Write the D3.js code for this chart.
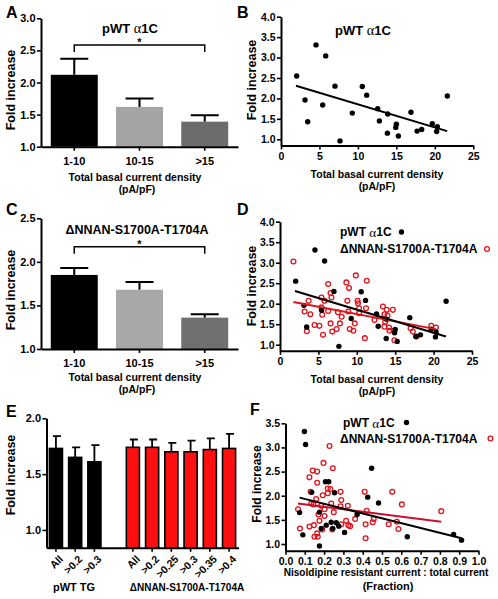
<!DOCTYPE html>
<html><head><meta charset="utf-8">
<script src="https://cdn.jsdelivr.net/npm/d3@7"></script>
<style>body{margin:0;background:#fff}svg{display:block}</style>
</head><body><svg id="c" width="498" height="599"></svg>
<script>
// ---------------- DATA ----------------
const densityCats = ["1-10", "10-15", ">15"];
const wtBarMean = [2.12, 1.62, 1.39];
const wtBarSem = [0.25, 0.13, 0.10];
const mutBarMean = [1.85, 1.68, 1.36];
const mutBarSem = [0.08, 0.09, 0.04];

const eWtCats = ["All", ">0.2", ">0.3"];
const eWtMean = [1.73, 1.65, 1.61];
const eWtSem = [0.11, 0.09, 0.15];
const eMutCats = ["All", ">0.2", ">0.25", ">0.3", ">0.35", ">0.4"];
const eMutMean = [1.74, 1.74, 1.70, 1.70, 1.72, 1.73];
const eMutSem = [0.07, 0.07, 0.08, 0.10, 0.10, 0.13];

const wtDensity = [2.04,3.12,3.47,4.55,5.42,5.81,7.02,7.67,9.27,10.57,11.14,12.57,12.79,13.87,13.83,14.92,15.0,15.26,16.9,17.69,18.29,19.67,20.32,20.24,21.63];
const wtFold    = [2.55,1.96,1.43,3.31,1.84,3.04,2.30,0.96,1.64,2.29,2.08,1.75,1.45,1.62,1.15,1.29,1.37,1.08,1.66,1.20,1.24,1.38,1.31,1.19,2.06];

const mutDensity = [1.75,3.73,3.2,3.95,3.5,4.5,5.13,5.4,5.4,5.5,5.6,5.8,6.27,6.27,6.58,6.7,6.58,6.8,7.37,7.54,7.8,8.03,8.64,8.77,8.99,8.9,9.08,9.56,9.74,9.87,10.1,10.15,10.3,10.3,11.05,11.3,11.2,12.3,13.4,13.6,13.7,13.6,13.9,14.0,14.2,14.25,14.7,14.8,14.9,17.0,17.3,17.76,19.7,20.3];
const mutFold    = [3.03,2.07,1.81,1.74,1.33,1.48,1.46,2.15,1.91,1.73,1.24,2.07,2.48,1.82,2.26,2.15,1.52,1.32,1.38,1.79,1.52,1.68,2.52,2.07,2.38,1.81,1.38,1.34,1.52,2.69,2.07,2.01,1.89,1.77,1.16,2.56,1.89,1.60,1.93,1.74,1.56,1.44,1.85,1.71,1.42,1.34,1.85,1.34,1.11,1.40,1.32,1.20,1.46,1.42];

const wtFraction = [0.098,0.104,0.073,0.09,0.136,0.176,0.176,0.185,0.207,0.224,0.211,0.237,0.245,0.254,0.263,0.276,0.306,0.371,0.426,0.446,0.482,0.631,0.871,0.912];
const wtFoldF    = [3.33,3.06,1.65,1.19,2.07,0.96,1.66,1.32,2.29,2.29,1.39,1.45,1.32,2.06,1.44,1.37,1.24,1.61,1.97,2.57,1.85,1.15,1.20,1.08];

const mutFraction = [0.065,0.075,0.124,0.141,0.164,0.164,0.13,0.133,0.145,0.159,0.124,0.147,0.15,0.167,0.164,0.171,0.176,0.185,0.193,0.197,0.202,0.202,0.19,0.219,0.228,0.233,0.219,0.237,0.245,0.25,0.242,0.285,0.289,0.289,0.285,0.314,0.323,0.326,0.335,0.361,0.41,0.415,0.415,0.421,0.452,0.457,0.535,0.553,0.577,0.585,0.603,0.807];
const mutFoldF    = [1.72,1.32,2.38,2.52,2.50,2.27,2.08,1.84,1.82,1.93,1.36,1.39,1.15,1.15,1.22,1.61,1.48,1.79,2.01,2.68,1.72,1.58,1.30,2.15,3.03,2.14,2.05,1.84,2.57,1.66,1.30,2.08,1.91,1.41,1.78,1.48,1.79,1.39,1.37,1.52,2.08,1.41,1.12,1.69,1.45,1.52,1.41,2.08,1.46,1.31,1.82,1.68];

// regression line end points
const fitWtDensityX = [1.95, 21.6], fitWtDensityY = [2.31, 1.20];
const fitMutDensityX = [1.75, 20.3], fitMutDensityY = [2.04, 1.38];
const fitWtFractionX = [0.073, 0.912], fitWtFractionY = [1.96, 1.12];
const fitMutFractionX = [0.064, 0.807], fitMutFractionY = [1.84, 1.46];

const ticksA = [1.0, 1.5, 2.0, 2.5, 3.0];
const ticksC = [1.0, 1.5, 2.0, 2.5];
const ticksE = [1.0, 1.5, 2.0];
const ticksBD = [1.0, 1.5, 2.0, 2.5, 3.0, 3.5, 4.0];
const ticksDensity = [0, 5, 10, 15, 20, 25];
const ticksF = [1.0, 1.5, 2.0, 2.5, 3.0, 3.5];
const ticksFraction = [0, 0.1, 0.2, 0.3, 0.4, 0.5, 0.6, 0.7, 0.8, 0.9, 1.0];

const wtLabel = "pWT ";
const mutLabel = "\u0394NNAN-S1700A-T1704A";

// ---------------- DRAWING ----------------
const FONT = "Arial, 'Liberation Sans', Helvetica, sans-serif";
const RED = "#e0141c";
const svg = d3.select("#c");
svg.append("rect").attr("width", 498).attr("height", 599).attr("fill", "#fff");

function text(x, y, s, size, anchor = "middle") {
  return svg.append("text").attr("x", x).attr("y", y).text(s)
    .attr("font-family", FONT).attr("font-weight", "bold").attr("font-size", size)
    .attr("text-anchor", anchor).attr("dominant-baseline", "central").attr("fill", "#000");
}
function alphaTitle(x, y, size, anchor = "middle") {
  const t = svg.append("text").attr("x", x).attr("y", y)
    .attr("font-family", FONT).attr("font-weight", "bold").attr("font-size", size)
    .attr("text-anchor", anchor).attr("dominant-baseline", "central");
  t.append("tspan").text(wtLabel);
  t.append("tspan").text("\u03b1").attr("font-family", "'Liberation Serif', 'Times New Roman', serif").attr("font-weight", "normal").attr("font-size", size * 1.1);
  t.append("tspan").text("1C");
  return t;
}
function yTitle(x, y, size) {
  svg.append("text").attr("transform", `translate(${x},${y}) rotate(-90)`)
    .attr("font-family", FONT).attr("font-weight", "bold").attr("font-size", size)
    .attr("text-anchor", "middle").attr("dominant-baseline", "central").text("Fold increase");
}
function styleAxis(g, size) {
  g.attr("font-family", FONT).attr("font-size", size).attr("font-weight", "bold");
  g.select(".domain").attr("stroke", "#000").attr("stroke-width", 2);
  g.selectAll(".tick line").attr("stroke", "#000").attr("stroke-width", 1.6);
  g.selectAll(".tick text").attr("fill", "#000");
}
function yAxis(scale, x, ticks, size) {
  const g = svg.append("g").attr("transform", `translate(${x},0)`)
    .call(d3.axisLeft(scale).tickValues(ticks).tickFormat(d3.format(".1f")).tickSize(4).tickSizeOuter(0).tickPadding(1.5));
  styleAxis(g, size);
  return g;
}
function xAxis(axis, y, size) {
  const g = svg.append("g").attr("transform", `translate(0,${y})`).call(axis);
  styleAxis(g, size);
  return g;
}
function letter(x, y, s) {
  svg.append("text").attr("x", x).attr("y", y).text(s).attr("font-family", FONT)
    .attr("font-weight", "bold").attr("font-size", 16);
}

// ---- bar panels A and C ----
function barPanel(means, sems, yDomain, yRange, ticks, fills, titleFn, bracketY, yLabelY, xTickPad, xTitleY) {
  const x = d3.scaleBand().domain(densityCats).range([41, 238]).paddingInner(0.28).paddingOuter(0.15);
  const y = d3.scaleLinear().domain(yDomain).range(yRange);
  const data = densityCats.map((c, i) => ({ c, m: means[i], s: sems[i], f: fills[i] }));
  const cx = d => x(d.c) + x.bandwidth() / 2;
  svg.append("g").selectAll("path").data(data).join("path")
    .attr("d", d => `M${cx(d)},${y(d.m)}V${y(d.m + d.s)}M${cx(d) - 14},${y(d.m + d.s)}H${cx(d) + 14}`)
    .attr("stroke", "#000").attr("stroke-width", 2).attr("fill", "none");
  svg.append("g").selectAll("rect").data(data).join("rect")
    .attr("x", d => x(d.c)).attr("width", x.bandwidth())
    .attr("y", d => y(d.m)).attr("height", d => y(yDomain[0]) - y(d.m)).attr("fill", d => d.f);
  yAxis(y, 41, ticks, 11);
  xAxis(d3.axisBottom(x).tickSize(4).tickSizeOuter(0).tickPadding(xTickPad), yRange[0], 11);
  const x1 = cx(data[0]), x2 = cx(data[2]);
  svg.append("path").attr("d", `M${x1},${bracketY + 7}V${bracketY}H${x2}V${bracketY + 7}`)
    .attr("stroke", "#000").attr("stroke-width", 1.5).attr("fill", "none");
  text((x1 + x2) / 2, bracketY - 3, "*", 11);
  titleFn();
  yTitle(11, yLabelY, 12.5);
  text(135, xTitleY, "Total basal current density", 10.5);
  text(137, xTitleY + 12, "(pA/pF)", 10.5);
}

barPanel(wtBarMean, wtBarSem, [1, 3], [146.7, 18.3], ticksA, ["#000", "#a4a4a4", "#6c6c6c"],
  () => alphaTitle(130, 28, 13), 45, 90, 6.5, 177);
barPanel(mutBarMean, mutBarSem, [1, 2.5], [349, 218.3], ticksC, ["#000", "#a8a8a8", "#707070"],
  () => text(137, 230, mutLabel, 12.5), 246.7, 290, 6, 377);

letter(6, 18, "A"); letter(237, 18, "B"); letter(6, 215, "C"); letter(237, 215, "D");
letter(6, 417, "E"); letter(250, 415, "F");

// ---- scatter panels ----
function scatter(xDom, xRange, yDom, yRange, yTicks, xTicks, xFmt, xPad) {
  const x = d3.scaleLinear().domain(xDom).range(xRange);
  const y = d3.scaleLinear().domain(yDom).range(yRange);
  yAxis(y, xRange[0], yTicks, 10.5);
  xAxis(d3.axisBottom(x).tickValues(xTicks).tickFormat(xFmt).tickSize(4).tickSizeOuter(0).tickPadding(xPad), yRange[0], 10.5);
  return { x, y };
}
function dots(s, xs, ys, filled) {
  svg.append("g").selectAll("circle").data(xs.map((v, i) => [v, ys[i]])).join("circle")
    .attr("cx", d => s.x(d[0])).attr("cy", d => s.y(d[1]))
    .attr("r", filled ? 2.7 : 2.4)
    .attr("fill", filled ? "#000" : "none")
    .attr("stroke", filled ? "none" : RED).attr("stroke-width", 1.3);
}
function fit(s, xs, ys, color) {
  svg.append("path").datum(xs.map((v, i) => [v, ys[i]]))
    .attr("d", d3.line().x(d => s.x(d[0])).y(d => s.y(d[1])))
    .attr("stroke", color).attr("stroke-width", 2).attr("fill", "none");
}
function legend(x1, y1, dot1, x2, y2, dot2, size) {
  alphaTitle(x1, y1, size, "start");
  svg.append("circle").attr("cx", dot1).attr("cy", y1).attr("r", 2.7).attr("fill", "#000");
  text(x2, y2, mutLabel, size, "start");
  svg.append("circle").attr("cx", dot2).attr("cy", y2).attr("r", 2.4).attr("fill", "none").attr("stroke", RED).attr("stroke-width", 1.3);
}

// B
const sB = scatter([0, 25], [281, 473.3], [0.85, 4], [145.4, 16.7], ticksBD, ticksDensity, d3.format("d"), 3.5);
dots(sB, wtDensity, wtFold, true);
fit(sB, fitWtDensityX, fitWtDensityY, "#000");
alphaTitle(363, 30, 13);
yTitle(252, 80, 12.5);
text(377, 173.5, "Total basal current density", 10.5);
text(377, 185.5, "(pA/pF)", 10.5);

// D
const sD = scatter([0, 25], [280, 472], [0.85, 4], [350.85, 221.7], ticksBD, ticksDensity, d3.format("d"), 2.5);
dots(sD, mutDensity, mutFold, false);
dots(sD, wtDensity, wtFold, true);
fit(sD, fitMutDensityX, fitMutDensityY, RED);
fit(sD, fitWtDensityX, fitWtDensityY, "#000");
yTitle(252, 286, 12.5);
text(377, 378.5, "Total basal current density", 10.5);
text(377, 390.5, "(pA/pF)", 10.5);
legend(340, 232, 401.5, 340, 249, 487, 12);

// F
const sF = scatter([0, 1], [285.5, 478.5], [0.86, 3.5], [550.76, 423.3], ticksF, ticksFraction, d3.format(".1f"), 2.5);
dots(sF, mutFraction, mutFoldF, false);
dots(sF, wtFraction, wtFoldF, true);
fit(sF, fitMutFractionX, fitMutFractionY, "#c8102e");
fit(sF, fitWtFractionX, fitWtFractionY, "#000");
yTitle(257, 484, 12);
text(386, 572, "Nisoldipine resistant current : total current", 10.1);
text(388, 586, "(Fraction)", 11);
legend(343, 422.5, 406.5, 340, 438.5, 490.5, 12);

// ---- E ----
(function () {
  const items = [];
  eWtCats.forEach((c, i) => items.push({ k: "w" + i, c, m: eWtMean[i], s: eWtSem[i], f: "#000" }));
  eMutCats.forEach((c, i) => items.push({ k: "m" + i, c, m: eMutMean[i], s: eMutSem[i], f: "#ff1010" }));
  const keys = items.slice(0, eWtCats.length).map(d => d.k).concat(["gap"], items.slice(eWtCats.length).map(d => d.k));
  const x = d3.scaleBand().domain(keys).range([46.5, 238.5]).paddingInner(0.32).paddingOuter(0.15);
  const y = d3.scaleLinear().domain([0.84, 2.0]).range([547.8, 418.3]);
  const cx = d => x(d.k) + x.bandwidth() / 2;
  svg.append("g").selectAll("path").data(items).join("path")
    .attr("d", d => `M${cx(d)},${y(d.m)}V${y(d.m + d.s)}M${cx(d) - 3},${y(d.m + d.s)}H${cx(d) + 5}`)
    .attr("stroke", "#000").attr("stroke-width", 1.8).attr("fill", "none");
  svg.append("g").selectAll("rect").data(items).join("rect")
    .attr("x", d => x(d.k)).attr("width", x.bandwidth())
    .attr("y", d => y(d.m)).attr("height", d => y(0.84) - y(d.m))
    .attr("fill", d => d.f).attr("stroke", "#000").attr("stroke-width", 1.6);
  yAxis(y, 46.5, ticksE, 11);
  xAxis(d3.axisBottom(x).tickValues(items.map(d => d.k)).tickFormat("").tickSize(4).tickSizeOuter(0), 547.8, 10.5);
  svg.append("g").selectAll("text").data(items).join("text")
    .attr("transform", d => `translate(${cx(d) + 5},${557}) rotate(-45)`)
    .attr("text-anchor", "end").attr("font-family", FONT).attr("font-weight", "bold")
    .attr("font-size", 10.5).attr("dominant-baseline", "central").text(d => d.c);
  text(74, 587, "pWT TG", 11);
  text(187, 587, mutLabel, 10);
  yTitle(11, 475, 12.5);
})();
</script></body></html>
